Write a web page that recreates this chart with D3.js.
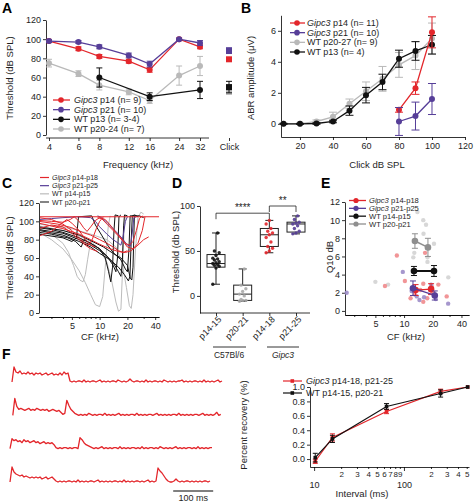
<!DOCTYPE html>
<html><head><meta charset="utf-8">
<script src="https://cdn.jsdelivr.net/npm/d3@7"></script>
<style>body{margin:0;background:#fff} text{font-family:"Liberation Sans",Arial,sans-serif}</style>
</head><body><svg id="c" width="474" height="503"></svg>
<script>
// ================= DATA =================
// Panel A
const freqA = [4,6,8,12,16,24,32];
const aTicksY = [0,20,40,60,80,100,120];
const gipcP14A = [98,90,82,77,68,100,92], gipcP14AErr = [1.5,2,2,2,2.5,1,2], gipcP14Click = [79,1.5];
const gipcP21A = [98,97,92,83,74,100,96], gipcP21AErr = [1.5,1.5,2,2.5,3,1,2.5], gipcP21Click = [88,3];
const wtP13Freq = [8,16,32], wtP13A = [60,40,47], wtP13AErr = [10,4,9], wtP13Click = [50,6];
const wtP20A = [75,64,52,45,36,62,72], wtP20AErr = [4,3,5,3,3,10,10], wtP20Click = [45,2];
const legendA = ["p14 (n= 9)","p21 (n= 10)","WT p13 (n= 3-4)","WT p20-24 (n= 7)"];
// Panel B
const levelsB = [10,20,30,40,50,60,70,80,90,100];
const bTicksX = [20,40,60,80,100,120], bTicksY = [0,2,4,6];
const wtP13B = [0,0,0.02,0.15,0.85,1.85,2.7,4.2,4.7,5.1], wtP13BErr = [0.03,0.03,0.05,0.08,0.3,0.5,0.5,0.55,0.6,0.6];
const wtP20B = [0,0,0.15,0.45,1.3,2.1,2.9,3.8,4.4,5.5], wtP20BErr = [0.03,0.03,0.1,0.3,0.3,0.6,0.8,0.8,0.9,1.0];
const gipcLevelsB = [80,90,100];
const gipcP14B = [0.9,2.3,5.9], gipcP14BErr = [0.15,0.4,1.0];
const gipcP21B = [0.15,0.5,1.6], gipcP21BErr = [0.9,0.9,1.0];
const legendB = ["p14 (n= 11)","p21 (n= 10)","WT p20-27 (n= 9)","WT p13 (n= 4)"];
// Panel C tuning curves [kHz, dB SPL]
const cTicksY = [0,20,40,60,80,100,120], cTicksX = [5,10,20,40], cMinor = [3,4,6,7,8,9,30];
const cGray = [
 [[2.2,92],[3,86],[4,76],[4.6,66],[5.2,52],[5.7,40],[6.1,36],[6.6,34],[7,42],[7.4,58],[7.8,72],[8.3,80]],
 [[2.2,88],[3,80],[4,70],[5,58],[6,46],[7,33],[8,20],[9,9],[10,7],[10.8,18],[11.6,55],[12.4,95],[13,106]],
 [[2.2,95],[4,90],[6,84],[8,78],[10,70],[12,55],[13.5,35],[15,12],[16,2],[17,4],[17.6,40],[18.4,90],[19,106]],
 [[2.2,97],[5,92],[8,86],[12,80],[15,72],[17.5,55],[19.5,28],[21,8],[22,5],[23,20],[24.5,70],[26,104],[28,110],[30,108]]
];
const cBlack = [
 [[2.2,93],[3,91],[4,88],[6,82],[8,76],[10,70],[11.5,60],[12.5,45],[13.2,34],[13.8,50],[14.3,90],[14.7,107],[16,106]],
 [[2.2,91],[4,87],[6,80],[8,74],[10,68],[12,62],[14,55],[16,45],[17,40],[17.6,55],[18.2,95],[18.6,107],[20,106]],
 [[2.2,90],[4,85],[6,78],[8,72],[10,65],[13,58],[16,50],[18.5,42],[20.5,35],[21.3,40],[22,80],[22.6,106],[24,107],[26,105]],
 [[2.2,88],[3,86],[4.5,82],[5.5,78],[6,74],[6.3,72],[6.8,80],[8,76],[10,70],[12,62],[14,52],[15,45],[15.6,60],[16.2,105],[17,107]],
 [[2.2,86],[4,82],[5,78],[5.6,82],[5.9,105],[8.2,106],[9,96],[10.5,85],[12,75],[14,66],[17,58],[19,48],[20,45],[20.8,70],[21.4,106],[24,106]],
 [[2.2,94],[4,90],[6,85],[8,79],[11,72],[14,65],[17,60],[20,52],[21.5,38],[22.3,36],[23,50],[23.8,106],[27,106],[30,104]]
];
const cPurple = [
 [[2.2,102],[3,103],[4,104],[6,105],[8,104],[9,100],[10,94],[12,86],[14,80],[16,76],[17,74],[18,84],[19,100],[20,105]],
 [[9.5,106],[10.5,104],[12,99],[14,92],[16,86],[18,80],[20,74],[21.5,73],[22.5,86],[23.5,104],[25,105]]
];
const cRed = [
 [[2.2,105],[44,105]],
 [[2.2,104],[3,102],[4,97],[5,90],[6,82],[7,76],[7.6,74],[8.3,80],[9.2,92],[10,100],[11,105]],
 [[2.2,101],[3,100],[4,99],[4.8,102],[5.3,105],[6,100],[6.7,93],[7.3,89],[8,94],[9,101],[10,104],[11.5,102],[13,96],[15,88],[17,82],[19,76],[21,74],[23,78],[25,90],[27,103],[29,106]],
 [[2.2,84],[3,89],[3.8,97],[4.4,102],[5,98],[6,90],[7,80],[8,74],[9,72]],
 [[2.2,98],[4,92],[6,86],[8,80],[10,75],[13,70],[16,67],[19,66],[22,68],[26,74],[30,80],[34,83]],
 [[2.2,92],[3,96],[4,94],[5,87],[6,80],[7,74],[8,70],[9.5,67]],
 [[9.5,104],[10.5,103],[12,97],[14,90],[16,84],[18,78],[20,72],[23,70],[26,76],[29,90],[31,105]],
 [[2.2,100],[3.5,97],[5,93],[6.5,88],[8,85],[10,80],[12,76],[14,72],[16,68],[18,66],[20,68]]
];
const legendC = ["p14-p18","p21-p25","WT  p14-p15","WT  p20-p21"];
// Panel D
const groupsD = ["p14-15","p20-21","p14-18","p21-25"];
const dTicksY = [0,50,100];
const dPoints = [
 [13,31,33,34,35,36,37,38,40,41,42,45,48,50,70],
 [-6,-5,-5,-4,0,2,5,8,12,30],
 [48,50,53,55,60,65,68,70,72,75,80,84],
 [69,70,72,75,78,80,81,82,85,89]
];
const dMin = [13,-6,48,69], dQ1 = [32,-5,55,71], dMed = [36,2,68,80], dQ3 = [46,12,75,82], dMax = [70,30,84,89];
// Panel E
const eTicksY = [0,2,4,6,8,10,12], eTicksX = [5,10,20,40], eMinor = [3,4,6,7,8,9,30];
const eGrayPts = [[13.8,10.9],[15.9,10.0],[17.0,9.5],[12.5,5.9],[17.6,5.9],[17.6,5.4],[20.6,7.4],[5.0,3.2],[6.8,2.9],[29.1,3.7],[12.8,6.4],[16.0,8.5]];
const eRedPts = [[8.4,6.1],[16.6,6.4],[6.3,2.75],[10.2,3.3],[11.7,1.4],[15.9,3.0],[14.8,2.3],[15.9,1.0],[22.9,2.9],[28.0,1.6],[17.5,1.4],[19.5,2.7],[13.0,1.8],[20.5,1.9]];
const ePurPts = [[2.5,2.0],[9.7,4.3],[13.6,1.6],[16.2,1.5],[19.2,2.9],[29.0,0.8],[12.0,2.2],[14.5,1.2],[21.5,1.3]];
const eGrayMean = [[13,7.7,0.8],[17.8,7.0,1.0]];
const eBlackMean = [[12.7,4.4,0.5],[20.6,4.4,0.6]];
const ePurMean = [[12.4,2.5,0.8],[21,1.7,0.5]];
const eRedMean = [[13.2,2.3,0.6],[19.2,2.4,0.6]];
const legendE = ["p14-p18","p21-p25","WT  p14-p15","WT  p20-p21"];
// Panel F traces (amplitude, 5 ms samples)
const trace1 = [0,15,10,9,11,8,9,8,10,8,9,7,9,8,9,7,8,9,7,8,9,7,8,7,9,7,10,8,9,1,0,1,0,1,1,0,2,0,1,0,1,1,0,1,2,0,1,0,1,0,1,1,0,2,1,0,1,0,1,3,1,0,1,1,0,1,0,2,0,1,0,1,1,0,1,0,2,1,0,1,0,1,0,1,1,2,0,1,0,1,0,1,1,0,1,0,2,0,1,0,1,0,1,2,0,1];
const trace2 = [0,17,9,6,7,6,5,6,7,5,6,5,7,6,5,6,5,6,4,5,6,5,4,5,3,1,2,15,10,6,4,2,1,0,1,0,1,0,2,1,0,1,0,1,1,0,2,0,1,0,1,0,1,2,0,1,0,1,0,1,1,0,2,0,1,0,1,0,1,1,0,1,2,0,1,0,1,0,1,0,1,1,0,2,0,1,0,1,0,1,0,1,1,0,1,2,0,1,0,1,0,1,3,0,1];
const trace3 = [0,10,8,9,7,8,6,9,7,8,6,7,8,6,7,5,6,7,5,6,5,6,4,1,0,1,0,1,1,0,1,0,1,1,0,11,9,6,4,3,2,1,0,1,0,1,2,0,1,0,1,0,1,1,0,2,0,1,0,1,0,1,1,0,1,0,2,0,1,0,1,1,0,1,0,2,1,0,1,0,1,0,1,2,0,1,0,1,0,1,1,0,1,0,2,0,1,0,1,0,1,1];
const trace4 = [0,15,10,8,7,6,7,5,6,5,4,5,4,5,4,5,3,4,5,3,4,5,3,1,0,1,0,1,0,1,1,0,1,0,2,0,1,0,1,0,1,1,0,1,2,0,1,0,1,0,1,0,1,1,0,1,0,2,0,1,0,1,0,1,1,0,1,0,1,2,0,1,0,1,14,11,9,6,3,1,0,0,1,3,1,0,1,0,1,1,0,1,0,1,0,1,0,1,1,0,1];
const traces = [trace1,trace2,trace3,trace4];
const traceStartMs = [5,7,0,0];
// Panel F recovery
const intervalsF = [10.3,16,64,256,512];
const recGipc = [-0.03,0.30,0.66,0.94,1.0], recGipcErr = [0.03,0.05,0.03,0.03,0];
const recWT = [0.02,0.28,0.73,0.91,1.0], recWTErr = [0.06,0.05,0.04,0.05,0];
const fTicksY = [0,0.2,0.4,0.6,0.8,1.0];
const fMinorVals = [20,30,40,50,60,70,80,90,200,300,400,500];
const fDecades = [10,100];
const legendF = [" p14-18, p21-25","WT p14-15, p20-21"];

// ================= DRAW =================
const RED="#e3262b", PUR="#563e98", BLK="#111", GRY="#b9b9b9", LGRY="#bcbcbc";
const svg = d3.select("#c");
const FS = 9, TXT = "#1e1e1e";
function styleAxis(g){
  g.selectAll("text").attr("font-size",FS).attr("fill",TXT);
  g.selectAll("line,path").attr("stroke","#000").attr("stroke-width",0.8);
}
function label(t,x,y,opt={}){
  const el = svg.append("text").attr("x",x).attr("y",y).attr("font-size",opt.fs||FS).attr("fill",TXT)
    .attr("text-anchor",opt.anchor||"middle").text(t);
  if(opt.rot) el.attr("transform",`rotate(${opt.rot},${x},${y})`);
  if(opt.bold) el.attr("font-weight","bold").attr("fill","#000");
  return el;
}
function panelLetter(t,x,y){ label(t,x,y,{fs:14,bold:true,anchor:"start"}); }
function errBar(g,x,y1,y2,color,cap){
  g.append("line").attr("x1",x).attr("x2",x).attr("y1",y1).attr("y2",y2).attr("stroke",color).attr("stroke-width",1);
  [y1,y2].forEach(y=>g.append("line").attr("x1",x-cap).attr("x2",x+cap).attr("y1",y).attr("y2",y).attr("stroke",color).attr("stroke-width",1));
}
function gipcText(x, y, rest, fs){
  const t = svg.append("text").attr("x",x).attr("y",y).attr("font-size",fs||FS).attr("fill",TXT).attr("text-anchor","start");
  t.append("tspan").attr("font-style","italic").text("Gipc3");
  t.append("tspan").text(rest);
  return t;
}

// ---------- Panel A ----------
panelLetter("A",2,13);
const xLogA = d3.scaleLog().domain([4,32]).range([49,200]);
const xA = d => d==="Click" ? 229 : xLogA(d);
const yA = d3.scaleLinear().domain([0,120]).range([135,20]);
const gA = svg.append("g");
gA.append("g").attr("transform","translate(46,0)")
  .call(d3.axisLeft(yA).tickValues(aTicksY).tickSize(3).tickSizeOuter(0).tickPadding(2)).call(styleAxis);
const axA = gA.append("g").attr("transform","translate(0,138)")
  .call(d3.axisBottom(xLogA).tickValues(freqA).tickFormat(d3.format("d")).tickSize(3).tickSizeOuter(0).tickPadding(3)).call(styleAxis);
axA.select(".domain").remove();
gA.append("line").attr("x1",46).attr("x2",209).attr("y1",138).attr("y2",138).attr("stroke","#000").attr("stroke-width",0.8);
const clickScale = d3.scalePoint().domain(["Click"]).range([229,229]);
const axC = gA.append("g").attr("transform","translate(0,138)").call(d3.axisBottom(clickScale).tickSize(3).tickSizeOuter(0).tickPadding(3)).call(styleAxis);
axC.select(".domain").remove();
label("Frequency (kHz)",138,168,{fs:9.5});
label("Threshold (dB SPL)",13,78,{fs:9.5,rot:-90});
function seriesA(fr, vals, errs, click, color, r){
  const pts = fr.map((f,i)=>({x:xA(f),y:yA(vals[i]),e:errs[i],v:vals[i]}));
  gA.append("path").attr("d",d3.line().x(d=>d.x).y(d=>d.y)(pts)).attr("fill","none").attr("stroke",color).attr("stroke-width",1.3);
  pts.forEach(p=>errBar(gA,p.x,yA(p.v+p.e),yA(p.v-p.e),color,3));
  pts.forEach(p=>gA.append("circle").attr("cx",p.x).attr("cy",p.y).attr("r",r).attr("fill",color));
  errBar(gA,xA("Click"),yA(click[0]+click[1]),yA(click[0]-click[1]),color,3);
  gA.append("rect").attr("x",xA("Click")-3).attr("y",yA(click[0])-3).attr("width",6).attr("height",6).attr("fill",color);
}
seriesA(freqA,wtP20A,wtP20AErr,wtP20Click,GRY,3);
seriesA(wtP13Freq,wtP13A,wtP13AErr,wtP13Click,BLK,3);
seriesA(freqA,gipcP14A,gipcP14AErr,gipcP14Click,RED,3);
seriesA(freqA,gipcP21A,gipcP21AErr,gipcP21Click,PUR,3);
const legYA = d3.scalePoint().domain(d3.range(4)).range([100,129]);
[RED,PUR,BLK,GRY].forEach((c,i)=>{
  const y = legYA(i);
  gA.append("line").attr("x1",53).attr("x2",70).attr("y1",y).attr("y2",y).attr("stroke",c).attr("stroke-width",1.3);
  gA.append("circle").attr("cx",61).attr("cy",y).attr("r",2.8).attr("fill",c);
  if(i<2) gipcText(74,y+3,' '+legendA[i]); else label(legendA[i],74,y+3,{anchor:"start"});
});

// ---------- Panel B ----------
panelLetter("B",241,13);
const xB = d3.scaleLinear().domain([8.5,120]).range([281,465]);
const yB = d3.scaleLinear().domain([-0.85,7]).range([137,15.3]);
const gB = svg.append("g");
gB.append("g").attr("transform","translate(281,0)").call(d3.axisLeft(yB).tickValues(bTicksY).tickSize(3).tickSizeOuter(0).tickPadding(2)).call(styleAxis);
gB.append("g").attr("transform","translate(0,137)").call(d3.axisBottom(xB).tickValues(bTicksX).tickSize(3).tickSizeOuter(0).tickPadding(3)).call(styleAxis);
label("Click dB SPL",377,168,{fs:9.5});
label("ABR amplitude (\u03bcV)",254,78,{fs:9.5,rot:-90});
function seriesB(lv, vals, errs, color){
  const pts = lv.map((l,i)=>({x:xB(l),v:vals[i],e:errs[i]}));
  gB.append("path").attr("d",d3.line().x(d=>d.x).y(d=>yB(d.v))(pts)).attr("fill","none").attr("stroke",color).attr("stroke-width",1.3);
  pts.forEach(p=>errBar(gB,p.x,yB(p.v+p.e),yB(p.v-p.e),color,4));
  pts.forEach(p=>gB.append("circle").attr("cx",p.x).attr("cy",yB(p.v)).attr("r",3).attr("fill",color));
}
seriesB(levelsB,wtP20B,wtP20BErr,GRY);
seriesB(levelsB,wtP13B,wtP13BErr,BLK);
seriesB(gipcLevelsB,gipcP14B,gipcP14BErr,RED);
seriesB(gipcLevelsB,gipcP21B,gipcP21BErr,PUR);
const legYB = d3.scalePoint().domain(d3.range(4)).range([23,52]);
[RED,PUR,GRY,BLK].forEach((c,i)=>{
  const y = legYB(i);
  gB.append("line").attr("x1",290).attr("x2",305).attr("y1",y).attr("y2",y).attr("stroke",c).attr("stroke-width",1.3);
  gB.append("circle").attr("cx",297).attr("cy",y).attr("r",2.8).attr("fill",c);
  if(i<2) gipcText(307,y+3,' '+legendB[i]); else label(legendB[i],307,y+3,{anchor:"start"});
});

// ---------- Panel C ----------
panelLetter("C",2,188);
const xC = d3.scaleLog().domain([2.2,44]).range([39,159]);
const yC = d3.scaleLinear().domain([0,120]).range([313,203]);
const gC = svg.append("g");
gC.append("g").attr("transform","translate(39,0)").call(d3.axisLeft(yC).tickValues(cTicksY).tickSize(3).tickSizeOuter(0).tickPadding(2)).call(styleAxis);
gC.append("g").attr("transform","translate(0,317)").call(d3.axisBottom(xC).tickValues(cTicksX).tickFormat(d3.format("d")).tickSize(3).tickSizeOuter(0).tickPadding(3)).call(styleAxis);
gC.append("g").attr("transform","translate(0,317)").call(d3.axisBottom(xC).tickValues(cMinor).tickFormat("").tickSize(2).tickSizeOuter(0)).call(styleAxis);
label("CF (kHz)",100,340,{fs:9.5});
label("Threshold (dB SPL)",13,258,{fs:9.5,rot:-90});
svg.append("clipPath").attr("id","clipC").append("rect").attr("x",40).attr("y",195).attr("width",122).attr("height",122);
const lineC = d3.line().x(d=>xC(d[0])).y(d=>yC(d[1]));
const gCl = gC.append("g").attr("clip-path","url(#clipC)");
[[cGray,LGRY],[cBlack,BLK],[cPurple,PUR],[cRed,RED]].forEach(([set,c])=>{
  set.forEach(cv=>gCl.append("path").attr("d",lineC(cv)).attr("fill","none").attr("stroke",c).attr("stroke-width",1));
});
const legYC = d3.scalePoint().domain(d3.range(4)).range([177.5,202]);
[RED,PUR,LGRY,"#333"].forEach((c,i)=>{
  const y = legYC(i);
  gC.append("line").attr("x1",40).attr("x2",49).attr("y1",y).attr("y2",y).attr("stroke",c).attr("stroke-width",1.2);
  if(i<2) gipcText(52,y+2.5,' '+legendC[i],7); else label(legendC[i],52,y+2.5,{anchor:"start",fs:7});
});

// ---------- Panel D ----------
panelLetter("D",172,188);
const xD = d3.scalePoint().domain(groupsD).range([216,296]);
const yD = d3.scaleLinear().domain([-19,100]).range([313,206]);
const gD = svg.append("g");
gD.append("g").attr("transform","translate(200,0)").call(d3.axisLeft(yD).tickValues(dTicksY).tickSize(3).tickSizeOuter(0).tickPadding(2)).call(styleAxis);
const axD = gD.append("g").attr("transform","translate(0,313)").call(d3.axisBottom(xD).tickSize(3).tickSizeOuter(0)).call(styleAxis);
axD.select(".domain").attr("d","M200,0H310");
axD.selectAll("text").attr("text-anchor","end").attr("transform","rotate(-45)").attr("dx","-1").attr("dy","4").attr("x",0).attr("y",5);
label("Threshold (db SPL)",179,252,{fs:9.5,rot:-90});
const dCols = [BLK,"#aaa",RED,PUR];
groupsD.forEach((g,i)=>{
  const cx = xD(g), w = 9;
  gD.append("line").attr("x1",cx).attr("x2",cx).attr("y1",yD(dMax[i])).attr("y2",yD(dQ3[i])).attr("stroke","#222");
  gD.append("line").attr("x1",cx).attr("x2",cx).attr("y1",yD(dQ1[i])).attr("y2",yD(dMin[i])).attr("stroke","#222");
  [dMax[i],dMin[i]].forEach(v=>gD.append("line").attr("x1",cx-4).attr("x2",cx+4).attr("y1",yD(v)).attr("y2",yD(v)).attr("stroke","#222"));
  gD.append("rect").attr("x",cx-w).attr("y",yD(dQ3[i])).attr("width",2*w).attr("height",yD(dQ1[i])-yD(dQ3[i])).attr("fill","none").attr("stroke","#222");
  gD.append("line").attr("x1",cx-w).attr("x2",cx+w).attr("y1",yD(dMed[i])).attr("y2",yD(dMed[i])).attr("stroke","#222");
  dPoints[i].forEach((v,j)=>{
    const jit = ((j*7)%5-2)*1.6;
    gD.append("circle").attr("cx",cx+jit).attr("cy",yD(v)).attr("r",1.7).attr("fill",dCols[i]).attr("opacity",0.9);
  });
});
function bracket(a,b,yv,txt){
  const y = yD(yv);
  gD.append("path").attr("d",`M${xD(a)},${y+6}V${y}H${xD(b)}V${y+6}`).attr("fill","none").attr("stroke","#222").attr("stroke-width",0.8);
  label(txt,(xD(a)+xD(b))/2,y-2,{fs:10});
}
bracket("p14-15","p14-18",92,"****");
bracket("p14-18","p21-25",100,"**");
svg.append("line").attr("x1",213).attr("x2",246).attr("y1",347).attr("y2",347).attr("stroke","#000").attr("stroke-width",0.8);
svg.append("line").attr("x1",267).attr("x2",299).attr("y1",347).attr("y2",347).attr("stroke","#000").attr("stroke-width",0.8);
label("C57Bl/6",229,358,{fs:8.5});
svg.append("text").attr("x",283).attr("y",358).attr("font-size",8.5).attr("fill",TXT).attr("text-anchor","middle").attr("font-style","italic").text("Gipc3");

// ---------- Panel E ----------
panelLetter("E",321,188);
const xE = d3.scaleLog().domain([2.4,48]).range([345,469]);
const yE = d3.scaleLinear().domain([-0.45,12]).range([315,202]);
const gE = svg.append("g");
gE.append("g").attr("transform","translate(345,0)").call(d3.axisLeft(yE).tickValues(eTicksY).tickSize(3).tickSizeOuter(0).tickPadding(2)).call(styleAxis);
gE.append("g").attr("transform","translate(0,315)").call(d3.axisBottom(xE).tickValues(eTicksX).tickFormat(d3.format("d")).tickSize(3).tickSizeOuter(0).tickPadding(3)).call(styleAxis);
gE.append("g").attr("transform","translate(0,315)").call(d3.axisBottom(xE).tickValues(eMinor).tickFormat("").tickSize(2).tickSizeOuter(0)).call(styleAxis);
label("CF (kHz)",406,340,{fs:9.5});
label("Q10 dB",333,257,{fs:9.5,rot:-90});
[[eGrayPts,"#d3d3d3"],[eRedPts,"#f08a8c"],[ePurPts,"#9c8cc8"]].forEach(([pts,c])=>{
  pts.forEach(p=>gE.append("circle").attr("cx",xE(p[0])).attr("cy",yE(p[1])).attr("r",2.2).attr("fill",c).attr("opacity",0.9));
});
function meanE(m,color,lw){
  gE.append("path").attr("d",d3.line().x(d=>xE(d[0])).y(d=>yE(d[1]))(m)).attr("stroke",color).attr("stroke-width",lw).attr("fill","none");
  m.forEach(d=>errBar(gE,xE(d[0]),yE(d[1]+d[2]),yE(d[1]-d[2]),color,3));
  m.forEach(d=>gE.append("circle").attr("cx",xE(d[0])).attr("cy",yE(d[1])).attr("r",3.3).attr("fill",color));
}
meanE(eGrayMean,"#8f8f8f",1.5);
meanE(eBlackMean,BLK,2);
meanE(eRedMean,RED,1.3);
meanE(ePurMean,PUR,1.3);
const legYE = d3.scalePoint().domain(d3.range(4)).range([200.5,224]);
[RED,PUR,BLK,"#8f8f8f"].forEach((c,i)=>{
  const y = legYE(i);
  gE.append("line").attr("x1",349).attr("x2",366).attr("y1",y).attr("y2",y).attr("stroke",c).attr("stroke-width",1.3);
  gE.append("circle").attr("cx",356).attr("cy",y).attr("r",2.6).attr("fill",c);
  if(i<2) gipcText(369,y+2.7,'  '+legendE[i],7.6); else label(legendE[i],369,y+2.7,{anchor:"start",fs:7.6});
});

// ---------- Panel F traces ----------
panelLetter("F",2,359);
const xF = d3.scaleLinear().domain([0,525]).range([10,220]);
const rowF = d3.scalePoint().domain(d3.range(4)).range([382,482]);
const gF = svg.append("g");
traces.forEach((tr,i)=>{
  const yF = d3.scaleLinear().domain([0,1]).range([rowF(i),rowF(i)-1]);
  gF.append("path").attr("d",d3.line().x((d,k)=>xF(traceStartMs[i]+k*5)).y(d=>yF(d))(tr))
    .attr("fill","none").attr("stroke",RED).attr("stroke-width",1.3).attr("stroke-linejoin","round");
});
gF.append("line").attr("x1",xF(408)).attr("x2",xF(508)).attr("y1",491).attr("y2",491).attr("stroke","#000").attr("stroke-width",1);
label("100 ms",xF(458),501,{fs:9});

// ---------- Panel F recovery ----------
const xR = d3.scaleLog().domain([9,530]).range([310,469]);
const yR = d3.scaleLinear().domain([-0.11,1]).range([467,387]);
const gR = svg.append("g");
gR.append("g").attr("transform","translate(310,0)").call(d3.axisLeft(yR).tickValues(fTicksY).tickFormat(d3.format(".1f")).tickSize(3).tickSizeOuter(0).tickPadding(2)).call(styleAxis);
const axR = gR.append("g").attr("transform","translate(0,467)").call(d3.axisBottom(xR).tickValues(fMinorVals).tickFormat(d=>String(d)[0]).tickSize(2).tickSizeOuter(0).tickPadding(2)).call(styleAxis);
axR.selectAll("text").attr("font-size",8);
const axR2 = gR.append("g").attr("transform","translate(0,467)").call(d3.axisBottom(xR).tickValues(fDecades).tickFormat(d3.format("d")).tickSize(4).tickSizeOuter(0).tickPadding(11)).call(styleAxis);
axR2.select(".domain").remove();
label("Interval (ms)",362,497,{fs:9.5});
label("Percent recovery (%)",247,425,{fs:9.5,rot:-90});
function seriesR(vals,errs,color){
  const pts = intervalsF.map((t,i)=>({x:xR(t),v:vals[i],e:errs[i]}));
  gR.append("path").attr("d",d3.line().x(d=>d.x).y(d=>yR(d.v))(pts)).attr("fill","none").attr("stroke",color).attr("stroke-width",1.2);
  pts.forEach(p=>{ if(p.e>0) errBar(gR,p.x,yR(p.v+p.e),yR(p.v-p.e),color,2.5); });
  pts.forEach(p=>gR.append("rect").attr("x",p.x-1.8).attr("y",yR(p.v)-1.8).attr("width",3.6).attr("height",3.6).attr("fill",color));
}
seriesR(recGipc,recGipcErr,RED);
seriesR(recWT,recWTErr,BLK);
const legYF = d3.scalePoint().domain([0,1]).range([381,393]);
[RED,BLK].forEach((c,i)=>{
  const y = legYF(i);
  gR.append("line").attr("x1",283).attr("x2",302).attr("y1",y).attr("y2",y).attr("stroke",c).attr("stroke-width",1.2);
  gR.append("rect").attr("x",290.5).attr("y",y-1.8).attr("width",3.6).attr("height",3.6).attr("fill",c);
  if(i===0) gipcText(306,y+3,legendF[0]); else label(legendF[1],306,y+3,{anchor:"start"});
});
</script>
</body></html>
